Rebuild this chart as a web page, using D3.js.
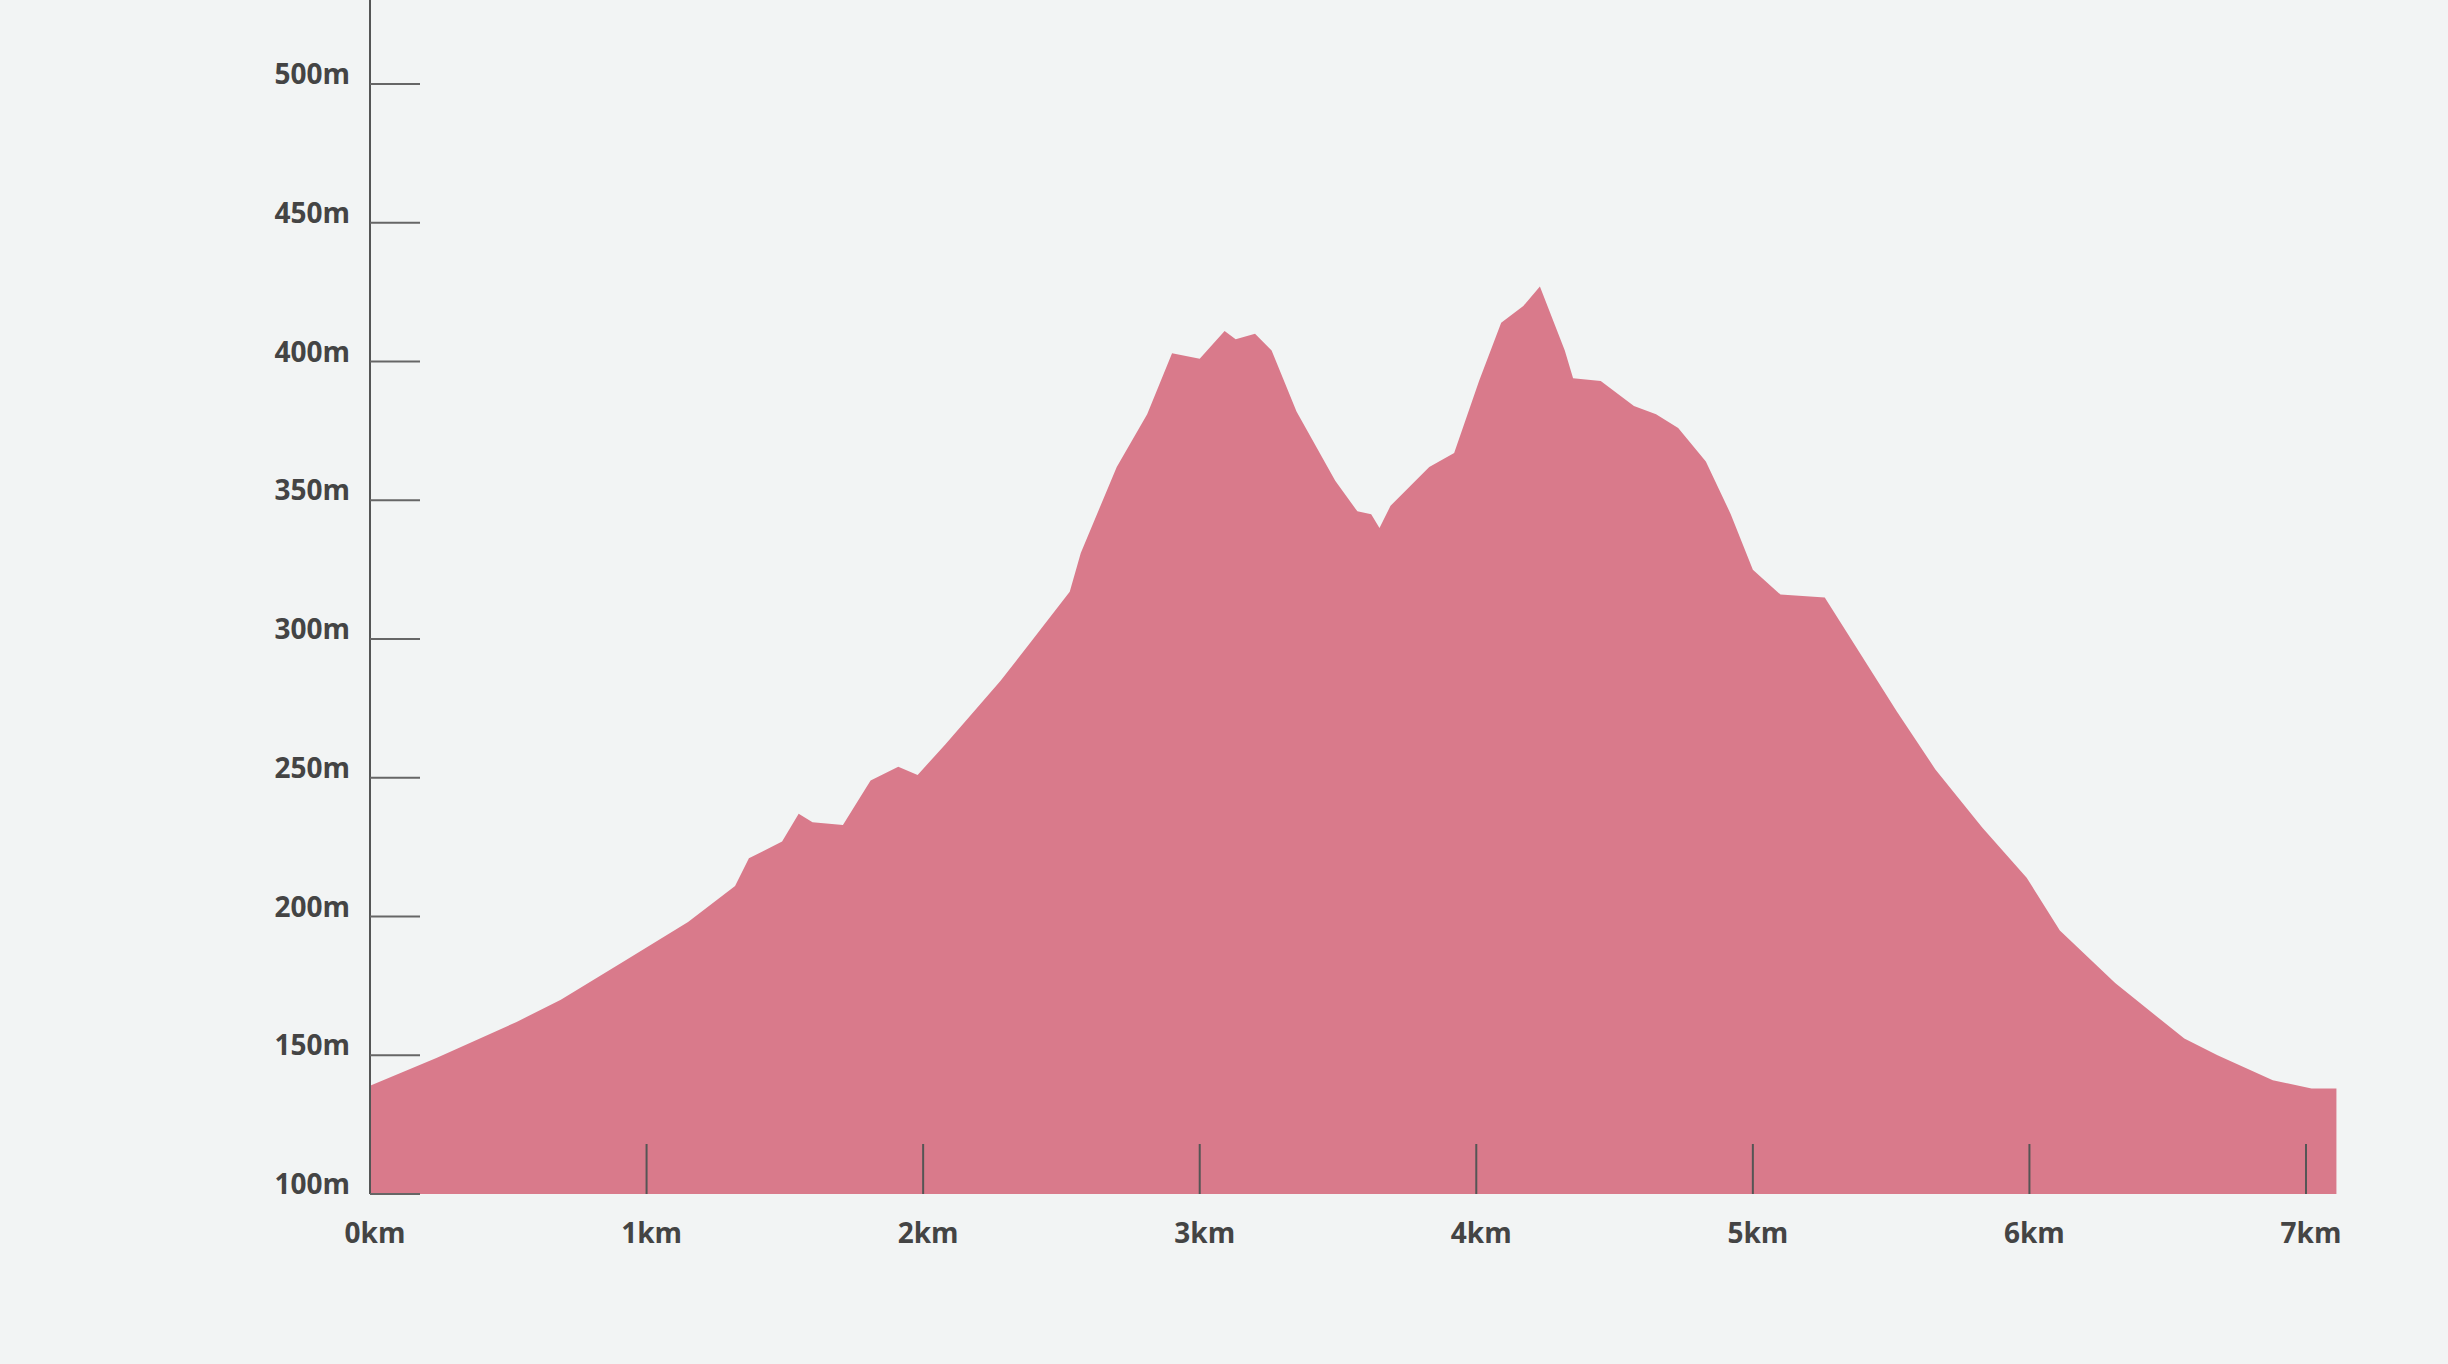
<!DOCTYPE html>
<html><head><meta charset="utf-8">
<script src="https://cdn.jsdelivr.net/npm/d3@7"></script>
<style>body{margin:0;background:#f2f4f4;}svg{display:block;}</style>
</head><body><div id="chart"></div>
<script>
// elevation profile
const distKm = [0,0.24,0.53,0.69,0.92,1.15,1.32,1.37,1.49,1.55,1.6,1.71,1.81,1.91,1.98,2.08,2.28,2.39,2.53,2.57,2.7,2.81,2.9,3.0,3.09,3.13,3.2,3.26,3.35,3.49,3.57,3.62,3.65,3.69,3.83,3.92,4.01,4.09,4.17,4.23,4.32,4.35,4.45,4.57,4.65,4.73,4.83,4.92,5.0,5.1,5.26,5.52,5.66,5.83,5.99,6.11,6.31,6.56,6.68,6.88,7.02,7.11];
const elevM = [139,149,162,170,184,198,211,221,227,237,234,233,249,254,251,262,285,299,317,331,362,381,403,401,411,408,410,404,382,357,346,345,340,348,362,367,393,414,420,427,404,394,393,384,381,376,364,345,325,316,315,274,253,232,214,195,176,156,150,141,138,138];
const yTicks = [100,150,200,250,300,350,400,450,500];
const xTicks = [0,1,2,3,4,5,6,7];

const W = 2448, H = 1364;
const svg = d3.select("#chart").append("svg").attr("width", W).attr("height", H);

const x = d3.scaleLinear().domain([0, 7]).range([370, 2306]);
const y = d3.scaleLinear().domain([100, 500]).range([1194, 84]);

const area = d3.area()
  .x((d, i) => x(distKm[i]))
  .y0(y(100))
  .y1(d => y(d));

svg.append("path").datum(elevM)
  .attr("d", area)
  .attr("fill", "#d97a8b");

// y axis line
svg.append("line")
  .attr("x1", 370).attr("x2", 370).attr("y1", 0).attr("y2", y(100))
  .attr("stroke", "#555").attr("stroke-width", 2);

const yAxis = svg.append("g");
yAxis.selectAll("line").data(yTicks).enter().append("line")
  .attr("x1", 370).attr("x2", 420)
  .attr("y1", d => y(d)).attr("y2", d => y(d))
  .attr("stroke", "#666").attr("stroke-width", 2);
yAxis.selectAll("text").data(yTicks).enter().append("text")
  .attr("x", 350).attr("y", d => y(d) - 0)
  .attr("text-anchor", "end")
  .attr("font-family", "Open Sans, sans-serif")
  .attr("font-weight", "bold").attr("font-size", 28)
  .attr("fill", "#444")
  .text(d => d + "m");

const xAxis = svg.append("g");
xAxis.selectAll("line").data(xTicks.filter(d => d > 0)).enter().append("line")
  .attr("x1", d => x(d)).attr("x2", d => x(d))
  .attr("y1", y(100)).attr("y2", y(100) - 50)
  .attr("stroke", "#555").attr("stroke-width", 2);
xAxis.selectAll("text").data(xTicks).enter().append("text")
  .attr("x", d => x(d) + 5).attr("y", 1243)
  .attr("text-anchor", "middle")
  .attr("font-family", "Open Sans, sans-serif")
  .attr("font-weight", "bold").attr("font-size", 28)
  .attr("fill", "#444")
  .text(d => d + "km");
</script></body></html>
